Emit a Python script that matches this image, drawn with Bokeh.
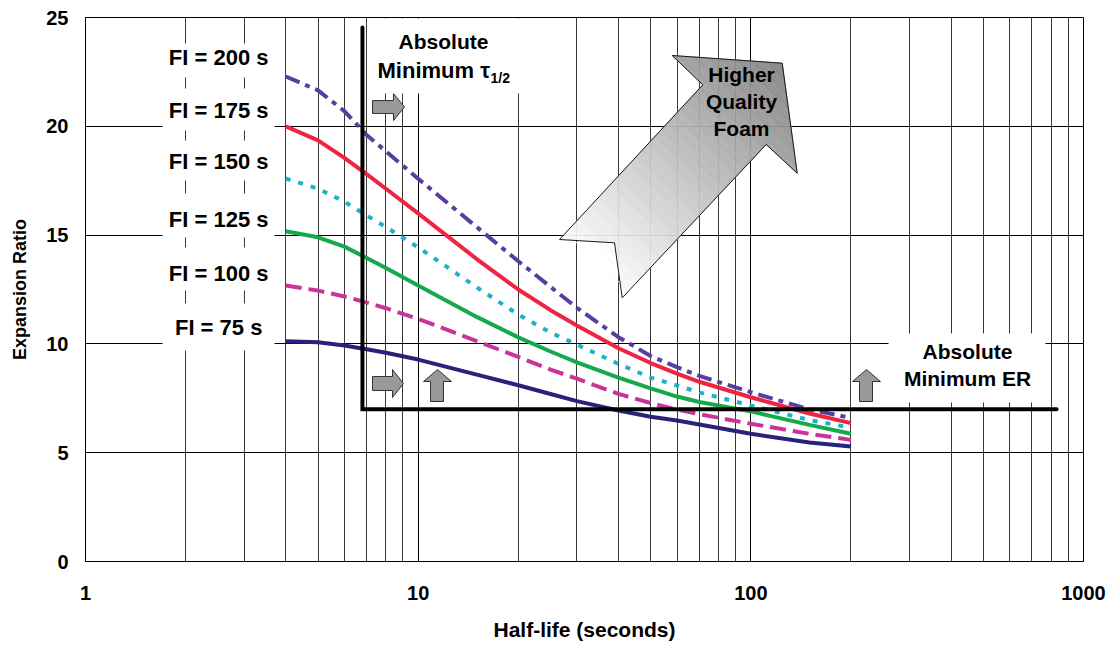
import math
from bokeh.plotting import figure
from bokeh.models import Range1d, FixedTicker, NumeralTickFormatter, Label, BoxAnnotation
from bokeh.embed import file_html
from bokeh.resources import INLINE

# ---------------- data ----------------
half_life = [4, 5, 6, 7, 8, 10, 15, 20, 25, 30, 40, 50, 60, 70, 100, 150, 200]
er_fi200 = [22.29, 21.65, 20.7, 19.6, 18.85, 17.59, 15.37, 13.8, 12.62, 11.66, 10.31, 9.44, 8.93, 8.53, 7.78, 6.99, 6.6]
er_fi175 = [20.0, 19.35, 18.55, 17.8, 17.13, 16.0, 13.9, 12.5, 11.55, 10.85, 9.8, 9.12, 8.63, 8.26, 7.55, 6.8, 6.36]
er_fi150 = [17.6, 17.13, 16.54, 15.9, 15.37, 14.44, 12.6, 11.35, 10.52, 9.97, 9.08, 8.45, 8.09, 7.77, 7.17, 6.5, 6.15]
er_fi125 = [15.18, 14.9, 14.47, 13.95, 13.49, 12.68, 11.24, 10.3, 9.65, 9.15, 8.45, 7.96, 7.58, 7.33, 6.9, 6.28, 5.87]
er_fi100 = [12.68, 12.45, 12.18, 11.9, 11.64, 11.15, 10.13, 9.4, 8.82, 8.4, 7.7, 7.28, 6.98, 6.77, 6.33, 5.87, 5.59]
er_fi75 = [10.12, 10.08, 9.93, 9.75, 9.59, 9.28, 8.59, 8.1, 7.7, 7.37, 6.94, 6.65, 6.48, 6.3, 5.87, 5.47, 5.28]
fi_labels = ["FI = 200 s", "FI = 175 s", "FI = 150 s", "FI = 125 s", "FI = 100 s", "FI =  75 s"]
x_ticks = [1, 10, 100, 1000]
x_minor = [m * d for d in (1, 10, 100) for m in range(2, 10)]
y_ticks = [0, 5, 10, 15, 20, 25]
min_half_life = 6.8      # absolute minimum half-life
min_er = 7               # absolute minimum expansion ratio
er_line_end = 830
tau_line_top = 24.54

FONT = "Liberation Sans"

# frame geometry (pixels) used only to place decorations
FL, FR, FT, FB = 85, 1083, 17, 561
def px2x(px):
    return 10 ** ((px - FL) / ((FR - FL) / 3.0))
def px2y(py):
    return (FB - py) / ((FB - FT) / 25.0)

p = figure(width=1115, height=646, x_axis_type="log",
           x_range=Range1d(1, 1000), y_range=Range1d(0, 25),
           output_backend="svg", toolbar_location=None,
           min_border_left=FL, min_border_right=1115 - FR,
           min_border_top=FT, min_border_bottom=646 - FB)
p.background_fill_color = "white"
p.border_fill_color = "white"
p.outline_line_color = "black"
p.outline_line_width = 1

# axes
p.xaxis.ticker = FixedTicker(ticks=x_ticks, minor_ticks=x_minor)
p.xaxis.formatter = NumeralTickFormatter(format="0")
p.yaxis.ticker = FixedTicker(ticks=y_ticks)
for ax in (p.xaxis, p.yaxis):
    ax.major_tick_out = 0
    ax.major_tick_in = 0
    ax.minor_tick_out = 0
    ax.minor_tick_in = 0
    ax.axis_line_color = "black"
    ax.axis_line_width = 1
    ax.major_label_text_font = FONT
    ax.major_label_text_font_style = "bold"
    ax.major_label_text_font_size = "20px"
    ax.major_label_text_color = "black"
    ax.axis_label_text_font = FONT
    ax.axis_label_text_font_style = "bold"
    ax.axis_label_text_color = "black"
p.xaxis.axis_label = "Half-life (seconds)"
p.yaxis.axis_label = "Expansion Ratio"
p.xaxis.axis_label_text_font_size = "21px"
p.yaxis.axis_label_text_font_size = "18px"
p.xaxis.major_label_standoff = 24
p.xaxis.axis_label_standoff = 15
p.yaxis.major_label_standoff = 17
p.yaxis.axis_label_standoff = 13

p.xgrid.grid_line_color = "black"
p.xgrid.grid_line_width = 1
p.xgrid.minor_grid_line_color = "#3a3a3a"
p.xgrid.minor_grid_line_width = 1
p.ygrid.grid_line_color = "black"
p.ygrid.grid_line_width = 1

# ---------------- big gradient arrow ----------------
arrow_px = [(559, 239), (702.3, 84.3), (671.7, 55), (781.7, 62.7), (796.7, 172.7),
            (765.7, 144), (621.7, 297.3), (614, 242.3)]

def clip(poly, a, b, c):
    out = []
    n = len(poly)
    for i in range(n):
        P = poly[i]; Q = poly[(i + 1) % n]
        fp = a * P[0] + b * P[1] - c
        fq = a * Q[0] + b * Q[1] - c
        if fp <= 0:
            out.append(P)
        if (fp <= 0) != (fq <= 0):
            t = fp / (fp - fq)
            out.append((P[0] + t * (Q[0] - P[0]), P[1] + t * (Q[1] - P[1])))
    return out

dx, dy = 0.68, -0.73
proj = [dx * x + dy * y for x, y in arrow_px]
tmin, tmax = min(proj), max(proj)
N = 30
bxs, bys, bcols = [], [], []
for i in range(N):
    t0 = tmin + (tmax - tmin) * i / N
    t1 = tmin + (tmax - tmin) * (i + 1) / N
    poly = clip(arrow_px, -dx, -dy, -t0)
    poly = clip(poly, dx, dy, t1)
    if len(poly) < 3:
        continue
    f = (i + 0.5) / N
    g = int(round(252 - f * (252 - 130)))
    bxs.append([px2x(x) for x, _ in poly])
    bys.append([px2y(y) for _, y in poly])
    bcols.append("#%02x%02x%02x" % (g, g, g))
p.patches(bxs, bys, fill_color=bcols, line_color=bcols, line_width=1, fill_alpha=0.92, line_alpha=0.92)
p.patch([px2x(x) for x, _ in arrow_px], [px2y(y) for _, y in arrow_px],
        fill_color=None, line_color="#1a1a1a", line_width=1)

# ---------------- curves ----------------
lw = 4
p.line(half_life, er_fi200, line_color="#5a3e9f", line_width=lw, line_dash="15 6 5 6")
p.line(half_life, er_fi175, line_color="#ee2440", line_width=lw)
p.line(half_life, er_fi150, line_color="#1eb2c6", line_width=lw, line_dash="5 8")
p.line(half_life, er_fi125, line_color="#14aa4c", line_width=lw)
p.line(half_life, er_fi100, line_color="#cc3399", line_width=lw, line_dash="16 7")
p.line(half_life, er_fi75, line_color="#28237a", line_width=lw)

# ---------------- threshold lines ----------------
p.line([min_half_life, min_half_life, er_line_end], [tau_line_top, min_er, min_er],
       line_color="black", line_width=4, line_join="miter", line_cap="round")

# ---------------- small block arrows ----------------
def right_arrow(x0, x1, yt, yb, bt, bb, xh):
    ym = (yt + yb) / 2.0
    pts = [(x0, bt), (xh, bt), (xh, yt), (x1, ym), (xh, yb), (xh, bb), (x0, bb)]
    return [px2x(x) for x, _ in pts], [px2y(y) for _, y in pts]

def up_arrow(x0, x1, ytip, yh, bl, br, yb):
    xm = (x0 + x1) / 2.0
    pts = [(bl, yb), (bl, yh), (x0, yh), (xm, ytip), (x1, yh), (br, yh), (br, yb)]
    return [px2x(x) for x, _ in pts], [px2y(y) for _, y in pts]

small = [right_arrow(372, 404, 93, 120, 100, 113, 393),
         right_arrow(372, 403, 369, 397, 376, 390, 392),
         up_arrow(423, 451, 369, 381, 430, 443, 401),
         up_arrow(852, 880, 369, 381, 859, 872, 401)]
p.patches([s[0] for s in small], [s[1] for s in small],
          fill_color="#999999", line_color="#333333", line_width=1)

# ---------------- white label boxes ----------------
def wbox(l, r, t, b):
    p.add_layout(BoxAnnotation(left=px2x(l), right=px2x(r), top=px2y(t), bottom=px2y(b),
                               fill_color="white", fill_alpha=1.0, line_color=None))

fi_boxes = [(43, 77), (88, 130), (140, 180), (193, 237), (247, 290), (303, 350)]
for t, b in fi_boxes:
    wbox(162, 274, t, b)
wbox(368, 525, 18, 93)
wbox(888, 1045, 333, 402)

# ---------------- texts ----------------
def label(px, py, text, size="21px", align="center", baseline="middle"):
    p.add_layout(Label(x=px2x(px), y=px2y(py), text=text, text_font=FONT,
                       text_font_style="bold", text_font_size=size, text_color="black",
                       text_align=align, text_baseline=baseline))

fi_y = [57, 110, 161, 219, 273, 327]
for txt, yy in zip(fi_labels, fi_y):
    label(268, yy, txt, size="22px", align="right")

label(443, 41, "Absolute")
label(377, 70, "Minimum \u03c4", size="22px", align="left")
label(490, 77, "1/2", size="14px", align="left")

label(967, 351, "Absolute")
label(967, 378, "Minimum ER")

label(741, 74, "Higher")
label(741, 101, "Quality")
label(741, 128, "Foam")

open("out.html", "w").write(file_html(p, INLINE))
